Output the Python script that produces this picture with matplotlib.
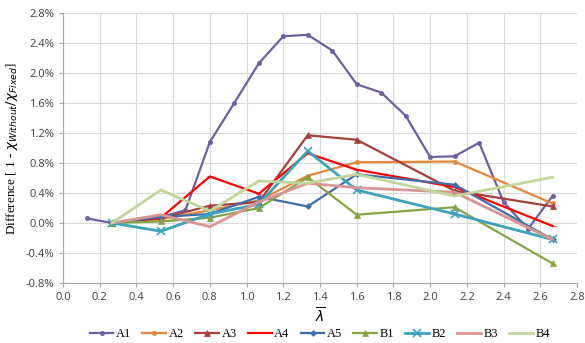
import numpy as np
import matplotlib
matplotlib.use('Agg')
import matplotlib.pyplot as plt
from matplotlib.ticker import FuncFormatter

# lambda-bar values
x_a1 = [0.133, 0.267, 0.533, 0.667, 0.8, 0.933, 1.067, 1.2, 1.333, 1.467,
        1.6, 1.733, 1.867, 2.0, 2.133, 2.267, 2.4, 2.533, 2.667]
x_all = [0.267, 0.533, 0.8, 1.067, 1.333, 1.6, 2.133, 2.667]

# differences in percent
a1 = [0.06, 0.0, 0.08, 0.17, 1.08, 1.60, 2.13, 2.49, 2.51, 2.30,
      1.85, 1.74, 1.43, 0.88, 0.89, 1.07, 0.28, -0.08, 0.36]
a2 = [0.0, 0.05, 0.17, 0.30, 0.63, 0.81, 0.82, 0.26]
a3 = [0.0, 0.06, 0.23, 0.28, 1.17, 1.11, 0.43, 0.22]
a4 = [0.0, 0.07, 0.62, 0.39, 0.93, 0.71, 0.48, -0.04]
a5 = [0.0, 0.08, 0.12, 0.35, 0.22, 0.65, 0.51, -0.22]
b1 = [0.0, 0.02, 0.07, 0.20, 0.61, 0.11, 0.21, -0.54]
b2 = [0.0, -0.11, 0.12, 0.25, 0.96, 0.44, 0.12, -0.22]
b3 = [0.0, 0.11, -0.05, 0.28, 0.53, 0.47, 0.41, -0.22]
b4 = [0.0, 0.44, 0.16, 0.56, 0.53, 0.65, 0.36, 0.61]

series = [
    ('A1', x_a1, a1, '#6F5F9E', 'o', 3),
    ('A2', x_all, a2, '#E5873B', 'o', 3),
    ('A3', x_all, a3, '#A63F3B', '^', 5),
    ('A4', x_all, a4, '#FF0000', '_', 4),
    ('A5', x_all, a5, '#3F6DAE', 'D', 3),
    ('B1', x_all, b1, '#86A443', '^', 4),
    ('B2', x_all, b2, '#3BA3BD', 'x', 6),
    ('B3', x_all, b3, '#D99594', None, 0),
    ('B4', x_all, b4, '#C3D69B', None, 0),
]

fig = plt.figure(figsize=(5.85, 3.43), dpi=100)
ax = fig.add_axes([0.1077, 0.175, 0.8786, 0.787])

for name, xs, ys, c, m, ms in series:
    lw = 2 if name in ('B2', 'B3', 'B4') else 1.6
    ax.plot(xs, ys, color=c, marker=m, markersize=ms, lw=lw, label=name,
            markeredgewidth=1.2 if m == 'x' else 0.5)

ax.set_xlim(0, 2.8)
ax.set_ylim(-0.8, 2.8)
ax.set_xticks(np.arange(0, 2.81, 0.2))
ax.set_yticks(np.arange(-0.8, 2.81, 0.4))
ax.xaxis.set_major_formatter(FuncFormatter(lambda v, p: '%.1f' % v))
ax.yaxis.set_major_formatter(FuncFormatter(lambda v, p: '%.1f%%' % v))
ax.grid(True, color='#D9D9D9', lw=0.8)
ax.set_axisbelow(True)
for s in ['top', 'right']:
    ax.spines[s].set_visible(False)
for s in ['left', 'bottom']:
    ax.spines[s].set_color('#A6A6A6')
ax.tick_params(colors='#404040', labelsize=8, length=3, color='#A6A6A6')
for lab in ax.get_xticklabels() + ax.get_yticklabels():
    lab.set_fontfamily('Open Sans')

ax.set_xlabel(r'$\overline{\lambda}$', fontsize=10, labelpad=2)
ax.set_ylabel(r'Difference [ 1 - $\chi_{Without}/\chi_{Fixed}$]',
              fontsize=9.5, family='Liberation Serif', labelpad=4)

ax.legend(loc='upper center', bbox_to_anchor=(0.5, -0.14), ncol=9,
          frameon=False, prop={'family': 'Liberation Serif', 'size': 9},
          handlelength=1.9, handletextpad=0.2, columnspacing=0.9,
          borderaxespad=0.2)

fig.savefig('out.png', dpi=100)
